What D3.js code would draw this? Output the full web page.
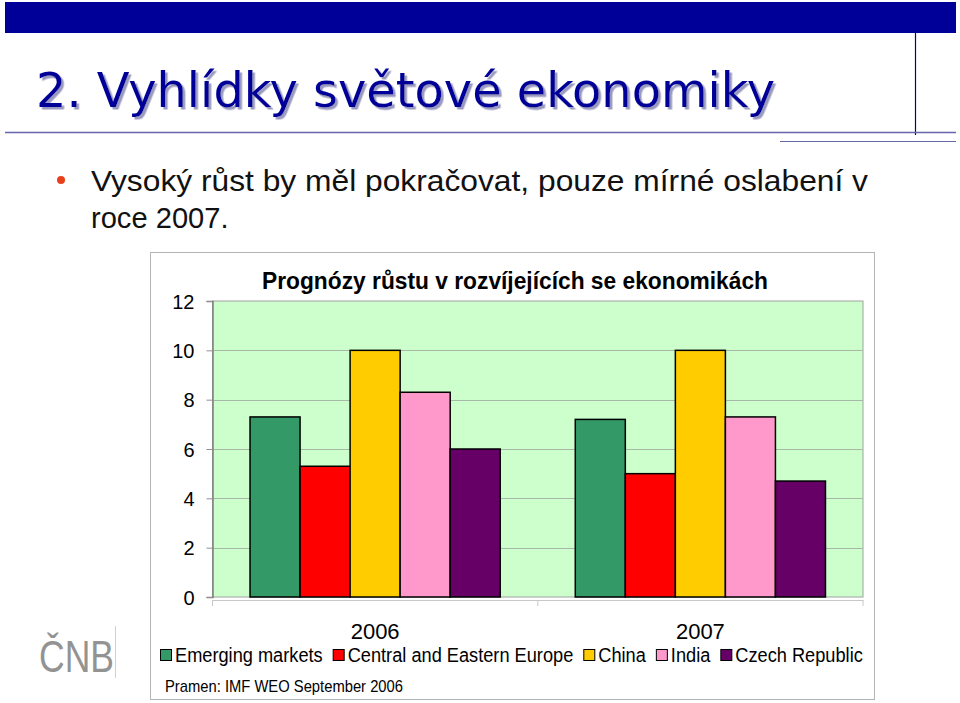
<!DOCTYPE html>
<html><head><meta charset="utf-8">
<script src="https://cdn.jsdelivr.net/npm/d3@7"></script>
<style>body{margin:0;background:#fff}svg{display:block}</style>
</head><body>
<script>
const categories = ["2006", "2007"];
const seriesNames = ["Emerging markets", "Central and Eastern Europe", "China", "India", "Czech Republic"];
const values2006 = [7.3, 5.3, 10.0, 8.3, 6.0];
const values2007 = [7.2, 5.0, 10.0, 7.3, 4.7];
const seriesColors = ["#339966", "#FF0000", "#FFCC00", "#FF99CC", "#660066"];
const yTicks = [0, 2, 4, 6, 8, 10, 12];
const pageTitle = "2. Vyhlídky světové ekonomiky";
const bulletLine1 = "Vysoký růst by měl pokračovat, pouze mírné oslabení v";
const bulletLine2 = "roce 2007.";
const chartTitle = "Prognózy růstu v rozvíjejících se ekonomikách";
const sourceText = "Pramen: IMF WEO September 2006";

const valuesByCat = {"2006": values2006, "2007": values2007};

const W = 960, H = 703;
const svg = d3.select("body").append("svg").attr("width", W).attr("height", H);
const sans = "'Liberation Sans', Arial, sans-serif";

function fit(sel, w) { sel.attr("textLength", w).attr("lengthAdjust", "spacingAndGlyphs"); return sel; }
function squeeze(sel, f) { const n = sel.node(); const w = n.getComputedTextLength(); sel.attr("textLength", w * f).attr("lengthAdjust", "spacingAndGlyphs"); return w * f; }

const defs = svg.append("defs");
const flt = defs.append("filter").attr("id", "shadow").attr("x", "-5%").attr("y", "-20%").attr("width", "110%").attr("height", "140%");
flt.append("feDropShadow").attr("dx", 2.5).attr("dy", 2.5).attr("stdDeviation", 0.6).attr("flood-color", "#9a9ac0").attr("flood-opacity", 1);

// Header
svg.append("rect").attr("x", 5).attr("y", 2).attr("width", 951).attr("height", 31).attr("fill", "#000099");
svg.append("line").attr("x1", 915.5).attr("x2", 915.5).attr("y1", 33).attr("y2", 135).attr("stroke", "#000099").attr("stroke-width", 1.2);
svg.append("line").attr("x1", 5).attr("x2", 956).attr("y1", 132.5).attr("y2", 132.5).attr("stroke", "#6666aa").attr("stroke-width", 1.5);
svg.append("line").attr("x1", 780).attr("x2", 956).attr("y1", 141.5).attr("y2", 141.5).attr("stroke", "#6666aa").attr("stroke-width", 1);

const tFont = "Tahoma, 'DejaVu Sans Condensed', 'DejaVu Sans', sans-serif";
fit(svg.append("text").attr("x", 36).attr("y", 107).attr("font-family", tFont).attr("font-size", 48)
  .attr("font-stretch", "condensed").attr("filter", "url(#shadow)")
  .attr("fill", "#000099").text(pageTitle), 739);

// Bullet
svg.append("circle").attr("cx", 61).attr("cy", 180).attr("r", 4).attr("fill", "#e8401c");
fit(svg.append("text").attr("x", 91).attr("y", 191).attr("font-family", sans).attr("font-size", 30).attr("fill", "#111").text(bulletLine1), 777);
squeeze(svg.append("text").attr("x", 91).attr("y", 228).attr("font-family", sans).attr("font-size", 30).attr("fill", "#111").text(bulletLine2), 0.97);

// Logo
fit(svg.append("text").attr("x", 39).attr("y", 672).attr("font-family", sans).attr("font-size", 45)
  .attr("fill", "#939393").text("ČNB"), 75);
svg.append("line").attr("x1", 115.5).attr("x2", 115.5).attr("y1", 626).attr("y2", 678).attr("stroke", "#d0d0d0");

// Chart box
svg.append("rect").attr("x", 150.5).attr("y", 252.5).attr("width", 724).attr("height", 447).attr("fill", "#fff").attr("stroke", "#b4b4b4");

const plot = {left: 212.5, right: 863, top: 301, bottom: 597};
const x0 = d3.scaleBand().domain(categories).range([plot.left, plot.right]).paddingInner(0).paddingOuter(0);
const x1 = d3.scaleBand().domain(seriesNames).range([0, x0.bandwidth()]).paddingInner(0).paddingOuter(0.75);
const y = d3.scaleLinear().domain([0, 12]).range([plot.bottom, plot.top]);

svg.append("rect").attr("x", plot.left).attr("y", plot.top).attr("width", plot.right - plot.left).attr("height", plot.bottom - plot.top)
  .attr("fill", "#CCFFCC").attr("stroke", "#a0a0a0");

// grid
svg.append("g").selectAll("line").data(yTicks.filter(t => t > 0 && t < 12)).join("line")
  .attr("x1", plot.left).attr("x2", plot.right).attr("y1", d => Math.round(y(d)) + 0.5).attr("y2", d => Math.round(y(d)) + 0.5)
  .attr("stroke", "#a8b8a8").attr("stroke-width", 1);

// bars
const groups = svg.append("g").selectAll("g").data(categories).join("g").attr("transform", d => `translate(${x0(d)},0)`);
groups.selectAll("rect").data(c => seriesNames.map((s, i) => ({s, i, v: valuesByCat[c][i]}))).join("rect")
  .attr("x", d => x1(d.s)).attr("width", x1.bandwidth())
  .attr("y", d => y(d.v)).attr("height", d => y(0) - y(d.v))
  .attr("fill", d => seriesColors[d.i]).attr("stroke", "#000").attr("stroke-width", 1.5);

// y axis
const yAxis = svg.append("g").attr("transform", `translate(${plot.left},0)`)
  .call(d3.axisLeft(y).tickValues(yTicks).tickSize(6).tickPadding(12).tickFormat(d3.format("d")));
yAxis.select(".domain").attr("stroke", "#808080").attr("stroke-width", 1.5);
yAxis.selectAll(".tick line").attr("stroke", "#909090");
yAxis.selectAll("text").attr("font-family", sans).attr("font-size", 20).attr("fill", "#000").attr("dy", "0.36em");

// x axis
const xAxis = svg.append("g").attr("transform", `translate(0,${plot.bottom + 3})`)
  .call(d3.axisBottom(x0).tickSize(0).tickPadding(0));
xAxis.select(".domain").attr("stroke", "#c8c8c8");
xAxis.selectAll(".tick text").attr("font-family", sans).attr("font-size", 22).attr("fill", "#000").attr("dy", 0).attr("y", 39);
svg.append("g").selectAll("line").data([plot.left, x0("2007"), plot.right]).join("line")
  .attr("x1", d => d).attr("x2", d => d).attr("y1", plot.bottom + 3).attr("y2", plot.bottom + 9).attr("stroke", "#c8c8c8");

// chart title
fit(svg.append("text").attr("x", (262 + 768) / 2).attr("y", 289).attr("text-anchor", "middle")
  .attr("font-family", sans).attr("font-size", 23).attr("font-weight", "bold").text(chartTitle), 506);

// legend
const legend = svg.append("g");
let lx = 160;
seriesNames.forEach((s, i) => {
  legend.append("rect").attr("x", lx + 0.5).attr("y", 649.5).attr("width", 11).attr("height", 11)
    .attr("fill", seriesColors[i]).attr("stroke", "#000").attr("stroke-width", 1);
  const t = legend.append("text").attr("x", lx + 15).attr("y", 662).attr("font-family", sans).attr("font-size", 20).text(s);
  const w = squeeze(t, 0.91);
  lx = lx + 15 + w + 10;
});

// source
fit(svg.append("text").attr("x", 165).attr("y", 692).attr("font-family", sans).attr("font-size", 17).text(sourceText), 238);
</script>
</body></html>
